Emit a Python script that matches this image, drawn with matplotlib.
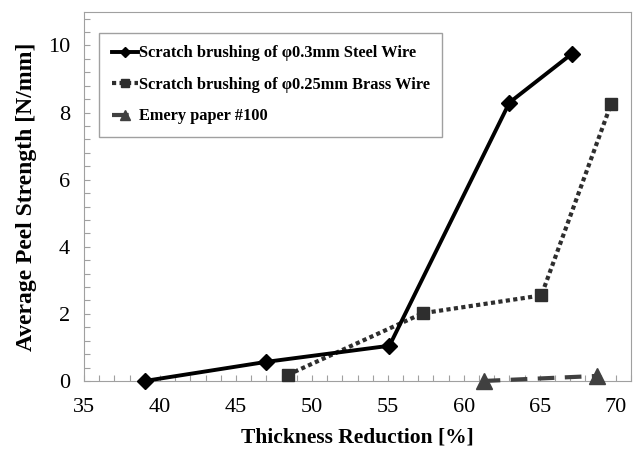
import matplotlib
matplotlib.use("Agg")
import matplotlib.pyplot as plt
from matplotlib.ticker import MultipleLocator

plt.rcParams['font.family'] = ['Liberation Serif', 'DejaVu Serif']

steel_x = [39.0, 47.0, 55.1, 63.0, 67.1]
steel_y = [0.0, 0.57, 1.05, 8.3, 9.75]
brass_x = [48.4, 57.3, 65.1, 69.7]
brass_y = [0.18, 2.02, 2.55, 8.27]
emery_x = [61.3, 68.75]
emery_y = [0.0, 0.15]

labels = ["Scratch brushing of \u03c60.3mm Steel Wire",
          "Scratch brushing of \u03c60.25mm Brass Wire",
          "Emery paper #100"]

fig = plt.figure(figsize=(6.39, 4.59), dpi=100)
ax = fig.add_axes([0.1315, 0.170, 0.856, 0.804])

ax.plot(steel_x, steel_y, color='black', lw=2.8, marker='D', ms=8,
        label=labels[0], clip_on=False, zorder=4)
ax.plot(brass_x, brass_y, color='#2e2e2e', lw=3, ls=(0, (1, 0.8)),
        marker='s', ms=9, label=labels[1], clip_on=False, zorder=3)
ax.plot(emery_x, emery_y, color='#404040', lw=3, ls=(0, (4, 2.5)),
        marker='^', ms=11, label=labels[2], clip_on=False, zorder=3)

ax.set_xlim(35, 71)
ax.set_ylim(0, 11)
ax.xaxis.set_major_locator(MultipleLocator(5))
ax.xaxis.set_minor_locator(MultipleLocator(1))
ax.yaxis.set_major_locator(MultipleLocator(2))
ax.yaxis.set_minor_locator(MultipleLocator(0.4))
ax.tick_params(which='both', direction='in', color='#a0a0a0', length=4,
               width=0.8, labelsize=16)
ax.tick_params(axis='x', pad=12)
ax.tick_params(axis='y', pad=10)
for s in ax.spines.values():
    s.set_color('#a0a0a0')

ax.set_xlabel("Thickness Reduction [%]", fontsize=15.5, fontweight='bold',
              labelpad=8)
ax.set_ylabel("Average Peel Strength [N/mm]", fontsize=17,
              fontweight='bold', labelpad=8)

leg = ax.legend(loc='upper left', bbox_to_anchor=(0.013, 0.965),
                prop={'weight': 'bold', 'size': 11.8}, fancybox=False,
                edgecolor='#a0a0a0', handlelength=1.6, handletextpad=0.05,
                labelspacing=0.95, borderpad=0.75, framealpha=1,
                markerscale=0.7)
leg.get_frame().set_linewidth(1.0)

fig.savefig("out.png", dpi=100)
